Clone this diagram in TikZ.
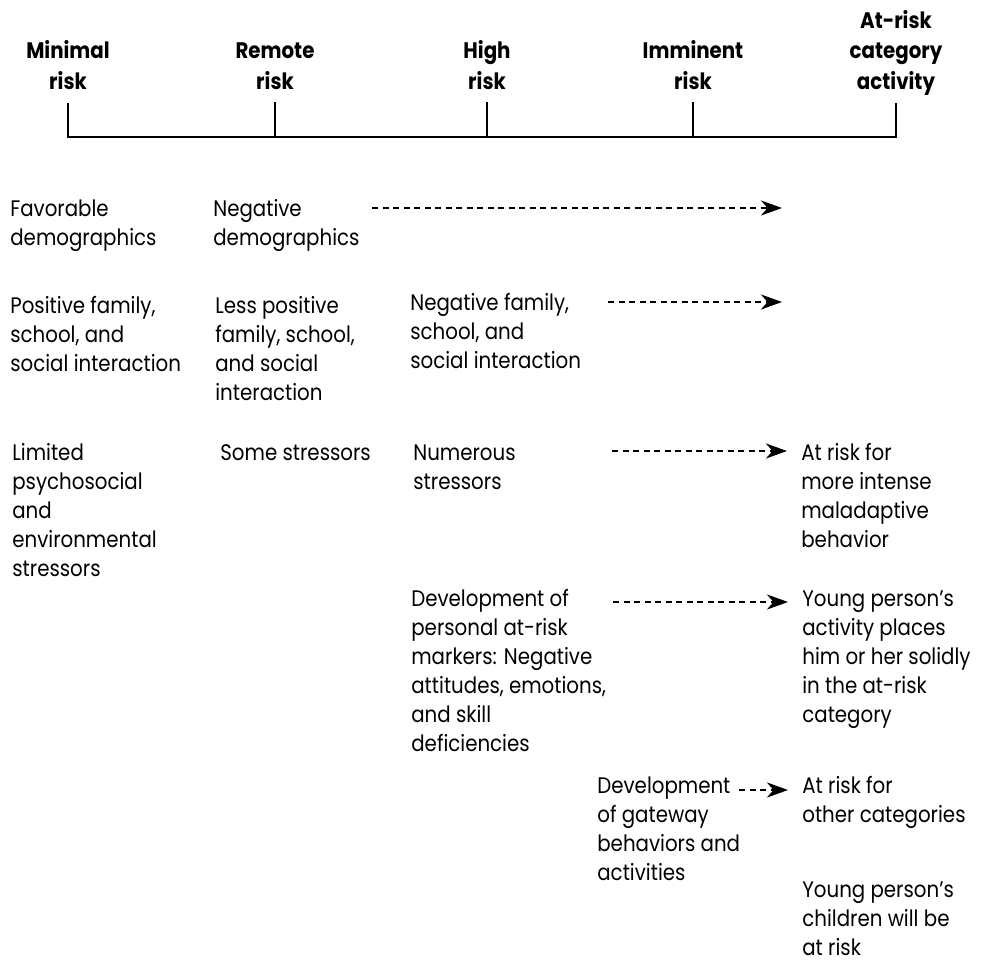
\documentclass[tikz,border=0pt]{standalone}
\usepackage{fontspec}
\setmainfont[FakeStretch=0.88]{Poppins}
\usepackage{tikz}
\usetikzlibrary{arrows.meta,positioning}

\begin{document}
\begin{tikzpicture}[>=Stealth,
  body/.style={anchor=base west,inner sep=0pt,align=left,font=\fontsize{12.8}{16.5}\selectfont},
  head/.style={anchor=base,inner sep=0pt,align=center,font=\fontsize{12.8}{17.1}\selectfont\bfseries},
  dasharr/.style={line width=1.5pt,dash pattern=on 1.2mm off 0.9mm,-{Stealth[length=4.2mm,width=3mm,inset=1.3mm]}}]
        \useasboundingbox (0,0) rectangle (19.74,-19.28);
        % scale (nodes sit on their last baseline)
        \node[head] (minimal) at (1.36,-1.78) {Minimal\\risk};
        \node[head] (remote) at (5.50,-1.78) {Remote\\risk};
        \node[head] (high) at (9.74,-1.78) {High\\risk};
        \node[head] (imminent) at (13.86,-1.78) {Imminent\\risk};
        \node[head] (atrisk) at (17.92,-1.78) {At-risk\\category\\activity};
        \draw[line width=1.2pt] (1.36,-2.06)--(1.36,-2.74)--(17.92,-2.74)--(17.92,-2.06);
        \foreach \x in {5.50,9.74,13.86} \draw[line width=1pt] (\x,-2.04)--(\x,-2.74);
        % rows
        \node[body] (favdemo) at (0.20,-4.90) {Favorable\\demographics};
        \node[body] (negdemo) at (4.26,-4.90) {Negative\\demographics};
        \node[body] (posfam) at (0.20,-7.42) {Positive family,\\school, and\\social interaction};
        \node[body] (lessfam) at (4.30,-8.00) {Less positive\\family, school,\\and social\\interaction};
        \node[body] (negfam) at (8.20,-7.36) {Negative family,\\school, and\\social interaction};
        \node[body] (limstress) at (0.24,-11.52) {Limited\\psychosocial\\and\\environmental\\stressors};
        \node[body] (somestress) at (4.40,-9.20) {Some stressors};
        \node[body] (numstress) at (8.26,-9.78) {Numerous\\stressors};
        \node[body] (moreintense) at (16.02,-10.94) {At risk for\\more intense\\maladaptive\\behavior};
        \node[body] (markers) at (8.22,-15.02) {Development of\\personal at-risk\\markers: Negative\\attitudes, emotions,\\and skill\\deficiencies};
        \node[body] (solidly) at (16.04,-14.44) {Young person's\\activity places\\him or her solidly\\in the at-risk\\category};
        \node[body] (gateway) at (11.94,-17.60) {Development\\of gateway\\behaviors and\\activities};
        \node[body] (othercat) at (16.04,-16.44) {At risk for\\other categories};
        \node[body] (children) at (16.04,-19.10) {Young person's\\children will be\\at risk};
        % arrows
        \coordinate (s1) at (7.44,-4.16); \coordinate (e1) at (15.64,-4.16);
        \coordinate (s2) at (12.16,-6.04); \coordinate (e2) at (15.64,-6.04);
        \coordinate (s3) at (12.24,-9.02);
        \coordinate (s4) at (12.26,-12.04);
        \coordinate (s5) at (14.78,-15.80);
        \draw[dasharr] (s1)--(e1);
        \draw[dasharr] (s2)--(e2);
        \draw[dasharr,shorten >=2.8mm] (s3)--(s3 -| moreintense.west);
        \draw[dasharr,shorten >=2.8mm] (s4)--(s4 -| solidly.west);
        \draw[dasharr,shorten >=2.8mm] (s5)--(s5 -| othercat.west);
\end{tikzpicture}
\end{document}
